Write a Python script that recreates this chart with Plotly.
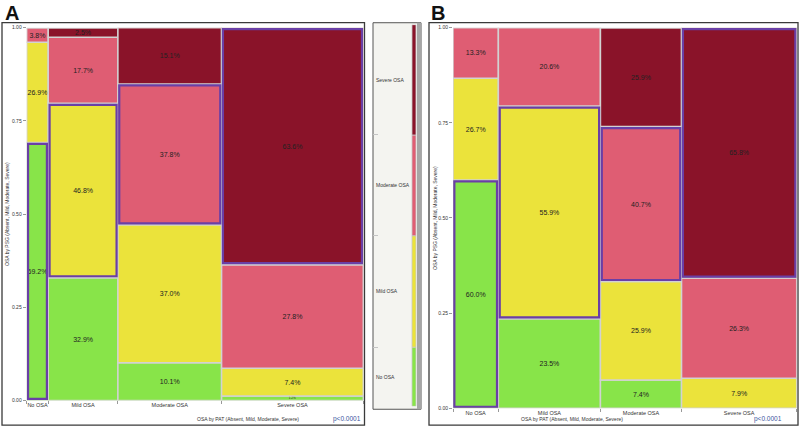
import plotly.graph_objects as go

levels = ["No OSA", "Mild OSA", "Moderate OSA", "Severe OSA"]
colors = ["#88e449", "#ebe33b", "#df5d73", "#8a1329"]

# Panel A: share of patients in each PAT class (column widths, %)
pat_share_a = [6.4, 20.7, 30.8, 42.1]
# % by PSG class inside each PAT column
psg_no_a = [69.2, 32.9, 10.1, 1.2]
psg_mild_a = [26.9, 46.8, 37.0, 7.4]
psg_mod_a = [3.8, 17.7, 37.8, 27.8]
psg_sev_a = [0.0, 2.5, 15.1, 63.6]

# Panel B
pat_share_b = [13.2, 29.7, 23.6, 33.5]
psg_no_b = [60.0, 23.5, 7.4, 0.0]
psg_mild_b = [26.7, 55.9, 25.9, 7.9]
psg_mod_b = [13.3, 20.6, 40.7, 26.3]
psg_sev_b = [0.0, 0.0, 25.9, 65.8]

# middle colour key (segment heights, %)
legend_share = [15.5, 29.2, 26.4, 28.9]

W, H = 799, 430


def px_x(p):
    return p / W


def px_y(p):
    return 1 - p / H


def add_mosaic(fig, share, cols, xa, ya):
    total = sum(share)
    widths = [s / total for s in share]
    lefts = [sum(widths[:i]) for i in range(len(widths))]
    centers = [l + w / 2 for l, w in zip(lefts, widths)]
    base = [0.0] * len(share)
    diag_base, diag_h = [], []
    for k, (vals, color) in enumerate(zip(cols, colors)):
        fig.add_bar(
            x=centers, y=[v / 100 if v > 0 else None for v in vals],
            base=[b / 100 for b in base], width=widths,
            marker=dict(color=color, line=dict(color="#d2d2d2", width=1.5)),
            text=[f"{v:.1f}%" if v > 0 else "" for v in vals],
            textposition="inside", insidetextanchor="middle", textangle=0,
            constraintext="none",
            textfont=dict(size=[7 if v > 2 else 3 for v in vals], color="#222"),
            xaxis=xa, yaxis=ya, hoverinfo="skip", showlegend=False)
        diag_base.append(base[k] / 100)
        diag_h.append(vals[k] / 100)
        base = [b + v for b, v in zip(base, vals)]
    # purple outline on the agreement cells
    ins = 0.004
    fig.add_bar(
        x=centers, y=[h - 2 * ins for h in diag_h], base=[b + ins for b in diag_base],
        width=[w - 2 * ins for w in widths],
        marker=dict(color="rgba(0,0,0,0)", line=dict(color="#6a3fa6", width=2.2)),
        xaxis=xa, yaxis=ya, hoverinfo="skip", showlegend=False)
    return lefts + [1.0], centers


fig = go.Figure()
bnd_a, cen_a = add_mosaic(fig, pat_share_a, [psg_no_a, psg_mild_a, psg_mod_a, psg_sev_a], "x", "y")
bnd_b, cen_b = add_mosaic(fig, pat_share_b, [psg_no_b, psg_mild_b, psg_mod_b, psg_sev_b], "x2", "y2")

# colour key strip
leg_base = [sum(legend_share[:i]) for i in range(len(legend_share))]
fig.add_bar(x=[0.854] * 4, y=legend_share, base=leg_base, width=0.083,
            marker=dict(color=colors, line=dict(color="#c8c8c8", width=0.8)),
            xaxis="x3", yaxis="y3", hoverinfo="skip", showlegend=False)

yax = dict(range=[0, 1], tickvals=[0, 0.25, 0.5, 0.75, 1], tickformat=".2f",
           ticks="outside", ticklen=3, tickcolor="#999", tickfont=dict(size=5),
           showgrid=False, zeroline=False, showline=False, fixedrange=True)


def xax(bnd, cen, dom, anchor):
    return dict(domain=dom, range=[0, 1], anchor=anchor, tickvals=cen, ticktext=levels,
                ticks="", tickfont=dict(size=5.5), showgrid=False, zeroline=False,
                showline=False,
                minor=dict(tickmode="array", tickvals=bnd, ticks="outside",
                           ticklen=3, tickcolor="#999"))


fig.update_layout(
    width=W, height=H, margin=dict(l=0, r=0, t=0, b=0),
    barmode="overlay", plot_bgcolor="rgba(0,0,0,0)", paper_bgcolor="white",
    font=dict(family="Liberation Sans, Arial, sans-serif", size=5, color="#333"),
    showlegend=False,
    xaxis=xax(bnd_a, cen_a, [px_x(26.7), px_x(363.3)], "y"),
    yaxis=dict(yax, domain=[px_y(403), px_y(25)], anchor="x"),
    xaxis2=xax(bnd_b, cen_b, [px_x(453), px_x(796.7)], "y2"),
    yaxis2=dict(yax, domain=[px_y(411), px_y(25)], anchor="x2"),
    xaxis3=dict(domain=[px_x(373), px_x(421)], range=[0, 1], anchor="y3",
                visible=False),
    yaxis3=dict(domain=[px_y(409), px_y(22)], range=[0, 100], anchor="x3",
                tickvals=[0] + [b + s for b, s in zip(leg_base, legend_share)],
                ticks="inside", ticklen=5, tickcolor="#c4c4c4", showticklabels=False,
                showgrid=False, zeroline=False, showline=False),
)

# frames and key box
shapes = [
    dict(type="rect", xref="paper", yref="paper", x0=px_x(2), x1=px_x(364.5),
         y0=px_y(428), y1=px_y(20), line=dict(color="#3a3a3a", width=1.3)),
    dict(type="rect", xref="paper", yref="paper", x0=px_x(429), x1=px_x(798),
         y0=px_y(428), y1=px_y(20), line=dict(color="#3a3a3a", width=1.3)),
    dict(type="rect", xref="paper", yref="paper", x0=px_x(373), x1=px_x(421),
         y0=px_y(412), y1=px_y(20), fillcolor="#f4f4f0", layer="below",
         line=dict(color="#555", width=1)),
    dict(type="rect", xref="paper", yref="paper", x0=px_x(417), x1=px_x(421),
         y0=px_y(412), y1=px_y(20), fillcolor="#a6a6a6", layer="below",
         line=dict(width=0)),
]
fig.update_layout(shapes=shapes)

ann = []
for lab, b, s in zip(levels, leg_base, legend_share):
    ann.append(dict(x=0.03, y=b + s / 2, xref="x3", yref="y3", text=lab, showarrow=False,
                    xanchor="left", yanchor="middle", font=dict(size=5, color="#333")))
for letter, x in [("A", 3), ("B", 429)]:
    ann.append(dict(x=px_x(x), y=px_y(10), xref="paper", yref="paper", text=f"<b>{letter}</b>",
                    showarrow=False, xanchor="left", yanchor="middle",
                    font=dict(size=20, color="#111", family="Liberation Sans, Arial")))
for x0, x1, yc, xt, pr in [(26.7, 363.3, 214, 7, 363), (453, 796.7, 218, 435, 784)]:
    ann.append(dict(x=px_x((x0 + x1) / 2), y=px_y(422), xref="paper", yref="paper",
                    text="OSA by PAT (Absent, Mild, Moderate, Severe)", showarrow=False,
                    yanchor="middle", font=dict(size=5)))
    ann.append(dict(x=px_x(xt), y=px_y(yc), xref="paper", yref="paper", textangle=-90,
                    text="OSA by PSG (Absent, Mild, Moderate, Severe)", showarrow=False,
                    xanchor="center", yanchor="middle", font=dict(size=5)))
    ann.append(dict(x=px_x(pr), y=px_y(422), xref="paper", yref="paper", text="p<0.0001",
                    showarrow=False, xanchor="right", yanchor="middle",
                    font=dict(size=6.5, color="#3b55a0")))
fig.update_layout(annotations=ann)

fig.write_html("out.html", config={"displayModeBar": False},
               post_script="document.body.style.margin='0';")
